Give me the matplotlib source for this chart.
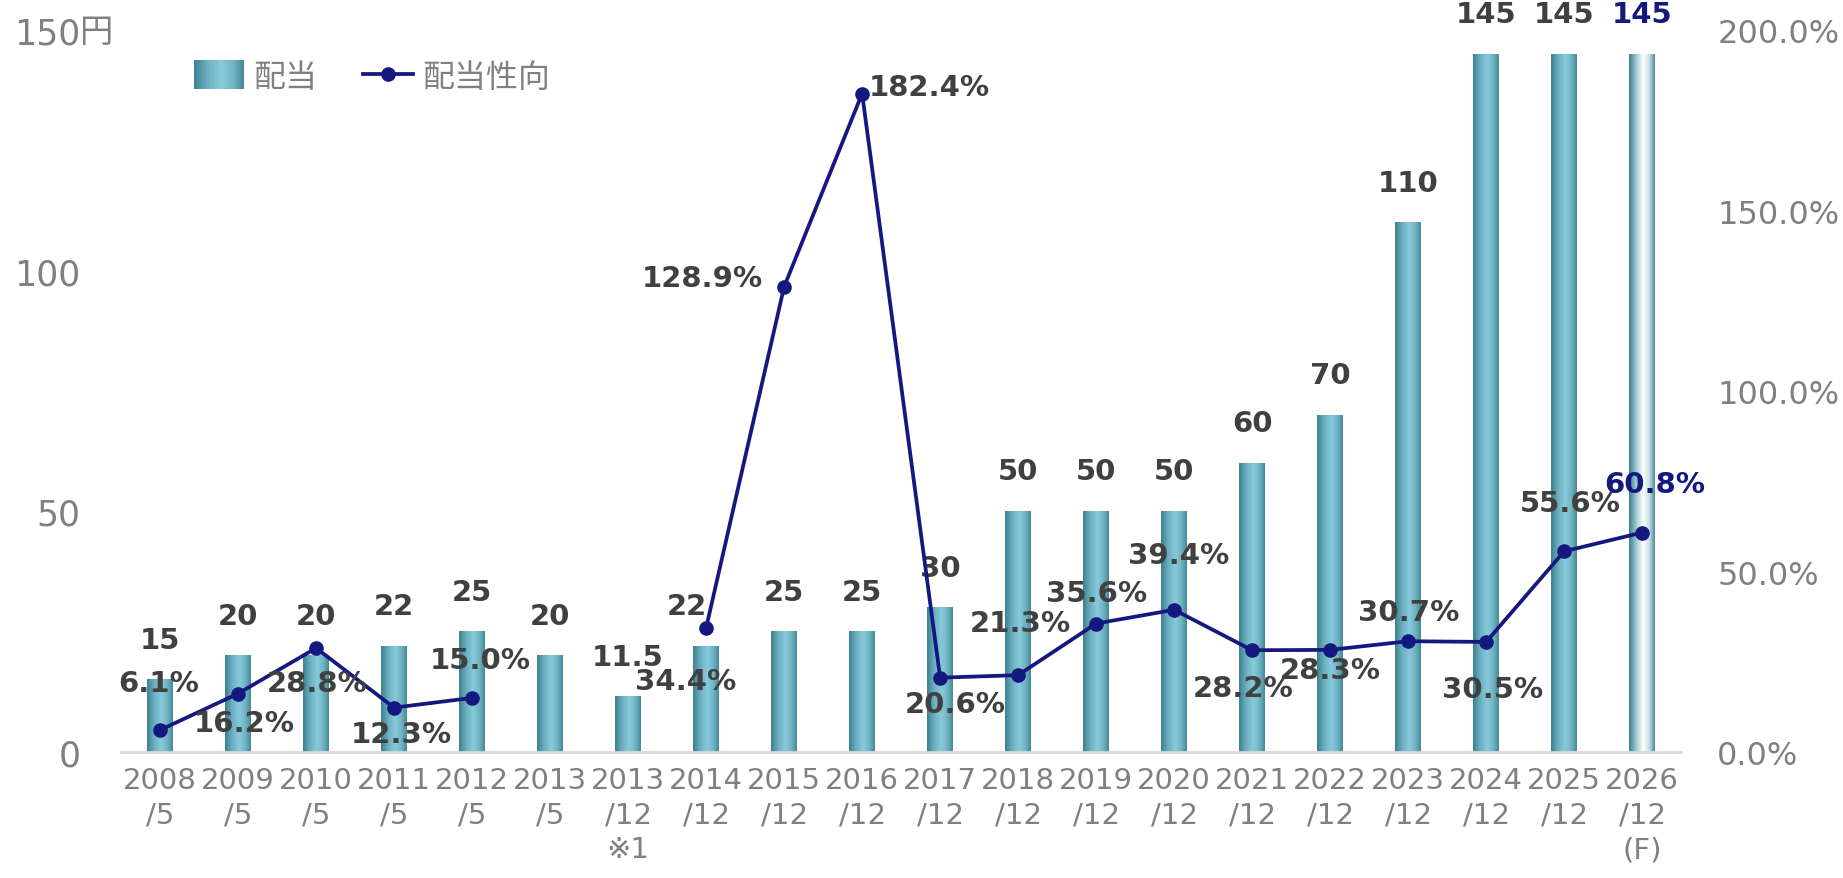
import numpy as np
import matplotlib.pyplot as plt
from matplotlib.colors import LinearSegmentedColormap
from matplotlib.legend_handler import HandlerBase
from matplotlib.patches import Rectangle
from matplotlib.lines import Line2D

plt.rcParams['font.family'] = ['DejaVu Sans', 'Noto Sans CJK JP']

periods = ['2008\n/5', '2009\n/5', '2010\n/5', '2011\n/5', '2012\n/5', '2013\n/5',
           '2013\n/12\n※1', '2014\n/12', '2015\n/12', '2016\n/12', '2017\n/12', '2018\n/12',
           '2019\n/12', '2020\n/12', '2021\n/12', '2022\n/12', '2023\n/12', '2024\n/12',
           '2025\n/12', '2026\n/12\n(F)']
dividend = [15, 20, 20, 22, 25, 20, 11.5, 22, 25, 25, 30, 50, 50, 50, 60, 70, 110, 145, 145, 145]
payout = [6.1, 16.2, 28.8, 12.3, 15.0, None, None, 34.4, 128.9, 182.4, 20.6, 21.3,
          35.6, 39.4, 28.2, 28.3, 30.7, 30.5, 55.6, 60.8]
forecast = [False] * 19 + [True]

# label offsets in pixels (dx, dy) for the payout labels
pct_offsets = [(-1, 47), (6, -29), (1, -35), (7, -26), (8, 38), None, None, (-20, -53),
               (-82, 9), (67, 7), (15, -26), (2, 52), (0, 31), (4, 55), (-9, -38),
               (0, -20), (1, 29), (6, -47), (6, 48), (13, 49)]
bar_dx = {7: -19}

grey = '#808080'
dark = '#404040'
navy = '#14187f'
bar_cmap = LinearSegmentedColormap.from_list('bar', [(0, '#3d8090'), (0.25, '#68acbd'), (0.55, '#88cadb'),
                                                      (0.8, '#6fb3c3'), (1.0, '#468a9a')])
fc_cmap = LinearSegmentedColormap.from_list('fc', [(0, '#3d8090'), (0.3, '#a9d0d8'), (0.55, '#ffffff'),
                                                    (0.8, '#c4dde2'), (1.0, '#4a8c9b')])
grad = np.linspace(0, 1, 64)[np.newaxis, :]


class HandlerGradient(HandlerBase):
    def create_artists(self, legend, orig_handle, xdescent, ydescent, width, height, fontsize, trans):
        n = 30
        out = []
        for i in range(n):
            r = Rectangle((-xdescent + width * i / n, -ydescent - 0.15 * height), width / n + 0.3, height * 1.3,
                          facecolor=bar_cmap((i + 0.5) / n), edgecolor='none', transform=trans)
            out.append(r)
        return out


fig = plt.figure(figsize=(18.43, 8.79), dpi=100)
ax = fig.add_axes([0.0657, 0.1433, 0.8465, 0.8214])
ax2 = ax.twinx()

x = np.arange(len(periods))
bars = ax.bar(x, dividend, width=0.33, color='none', edgecolor='none')
for b, fc in zip(bars, forecast):
    x0 = b.get_x()
    ax.imshow(grad, extent=(x0, x0 + b.get_width(), 0, b.get_height()), aspect='auto',
              cmap=fc_cmap if fc else bar_cmap, zorder=2, interpolation='bicubic')

ax.set_xlim(-0.5, len(periods) - 0.5)
ax.set_ylim(0, 150)
ax.set_yticks([0, 50, 100, 150])
ax.set_xticks(x)
ax.set_xticklabels(periods, fontsize=21, color=grey, linespacing=1.3)
ax.tick_params(axis='x', length=0, pad=10)
ax.tick_params(axis='y', length=0, pad=29, labelsize=25, labelcolor=grey)
for s in ['top', 'left', 'right']:
    ax.spines[s].set_visible(False)
    ax2.spines[s].set_visible(False)
ax.spines['bottom'].set_color('#d9d9d9')
ax.spines['bottom'].set_linewidth(2)
ax2.spines['bottom'].set_visible(False)
ax.annotate('円', xy=(0, 150), xycoords=('axes fraction', 'data'), xytext=(-41, -1),
            textcoords='offset pixels', ha='left', va='center', fontsize=24, color=grey)

py = np.array([np.nan if v is None else v for v in payout])
ax2.plot(x, py, color=navy, lw=2.7, marker='o', markersize=9.5, zorder=5)
ax2.set_ylim(0, 200)
ax2.set_yticks([0, 50, 100, 150, 200])
ax2.set_yticklabels(['%.1f%%' % v for v in [0, 50, 100, 150, 200]])
ax2.tick_params(axis='y', length=0, pad=26, labelsize=23, labelcolor=grey)

for i, v in enumerate(dividend):
    c = navy if forecast[i] else dark
    txt = ('%g' % v)
    ax.annotate(txt, xy=(x[i], v), xytext=(bar_dx.get(i, 0), 40), textcoords='offset pixels',
                ha='center', va='center', fontsize=21, fontweight='bold', color=c, annotation_clip=False)

for i, v in enumerate(payout):
    if v is None:
        continue
    c = navy if forecast[i] else dark
    ax2.annotate('%.1f%%' % v, xy=(x[i], v), xytext=pct_offsets[i], textcoords='offset pixels',
                 ha='center', va='center', fontsize=21, fontweight='bold', color=c, zorder=6)

h_bar = Rectangle((0, 0), 1, 1)
h_line = Line2D([], [], color=navy, lw=2.7, marker='o', markersize=9.5)
leg = ax.legend([h_bar, h_line], ['配当', '配当性向'], ncol=2, frameon=False, fontsize=23,
                labelcolor=grey, handlelength=1.55, handletextpad=0.3, columnspacing=1.45, borderpad=0,
                handler_map={Rectangle: HandlerGradient()},
                loc='center left', bbox_to_anchor=(178 / 1843, 1 - 78 / 879), bbox_transform=fig.transFigure)

fig.savefig('out.png', dpi=100)
